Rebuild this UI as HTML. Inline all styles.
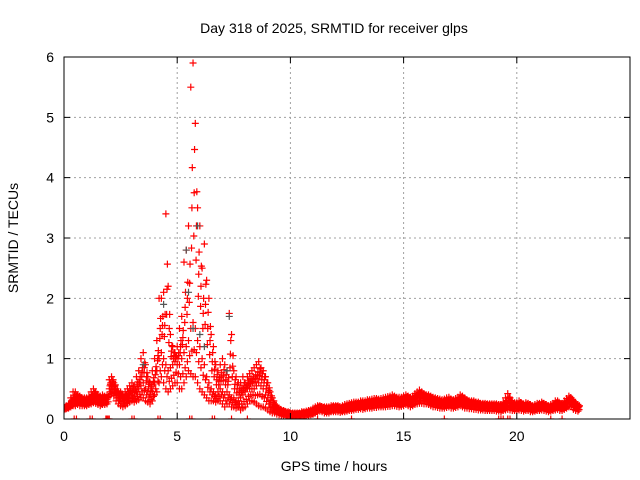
<!DOCTYPE html>
<html><head><meta charset="utf-8"><style>
body{margin:0;background:#fff}
svg{display:block;font-family:"Liberation Sans",sans-serif}
</style></head><body>
<svg id="chart" width="640" height="480">
<defs><clipPath id="clip"><rect x="64" y="57" width="566" height="362"/></clipPath></defs>
<rect width="640" height="480" fill="#fff"/>
<g id="grid"></g>
<g id="marks" clip-path="url(#clip)"></g>
<rect x="64" y="57" width="566" height="362" fill="none" stroke="#000" stroke-width="1"/>
<g id="ticks"></g>
<text x="334" y="33" text-anchor="middle" font-size="14">Day 318 of 2025, SRMTID for receiver glps</text>
<text x="334" y="471" text-anchor="middle" font-size="14">GPS time / hours</text>
<text transform="translate(18,238) rotate(-90)" text-anchor="middle" font-size="14">SRMTID / TECUs</text>
</svg>
<script>
const xTicks=[0,5,10,15,20];
const yTicks=[0,1,2,3,4,5,6];
const step=0.1;
const midVals=[.18,.2,.22,.25,.28,.3,.32,.3,.28,.27,.28,.3,.32,.35,.33,.3,.28,.3,.3,.32,
.5,.55,.5,.4,.35,.35,.3,.32,.35,.4,.4,.38,.45,.5,.55,.6,.5,.45,.4,.45,
.6,.8,1.0,1.1,1.0,.9,.8,.85,.9,.95,.9,.9,1.0,1.1,1.2,1.3,1.5,1.6,1.5,1.3,
1.2,1.0,.9,.7,.6,.5,.45,.4,.45,.5,.45,.4,.45,.4,.35,.35,.3,.3,.35,.4,
.45,.5,.5,.5,.5,.55,.6,.55,.5,.4,.35,.25,.2,.18,.15,.12,.1,.1,.08,.08,
.07,.06,.06,.07,.07,.08,.08,.09,.1,.1,.12,.15,.17,.18,.17,.15,.15,.16,.17,.17,
.18,.17,.16,.17,.18,.19,.2,.2,.21,.22,.22,.23,.22,.24,.25,.24,.25,.26,.27,.26,
.26,.27,.28,.28,.29,.3,.29,.28,.27,.28,.3,.32,.3,.28,.3,.33,.35,.36,.35,.34,
.33,.32,.3,.28,.27,.26,.25,.24,.25,.26,.27,.25,.24,.26,.28,.3,.28,.26,.25,.24,
.24,.23,.22,.22,.2,.21,.2,.2,.2,.2,.2,.19,.18,.18,.2,.22,.25,.22,.2,.2,
.2,.22,.2,.19,.2,.2,.18,.17,.18,.2,.2,.22,.2,.18,.17,.18,.2,.22,.23,.2,
.2,.22,.25,.3,.28,.22,.2,.18];
const hiVals=[.2,.22,.25,.35,.45,.45,.4,.38,.35,.35,.35,.38,.45,.5,.45,.4,.38,.4,.38,.4,
.65,.7,.6,.5,.45,.45,.4,.45,.5,.55,.6,.55,.7,.8,1.0,1.1,.9,.7,.6,.8,
1.0,1.3,2.0,2.0,2.1,3.4,2.2,1.4,1.2,1.1,1.2,1.5,1.7,2.6,2.8,3.2,5.5,5.9,4.9,3.5,
3.2,2.5,2.9,2.3,2.0,1.4,1.2,.9,.8,.9,1.0,.9,.8,1.75,1.4,.8,.7,.6,.6,.7,
.6,.7,.75,.8,.85,.9,.95,.85,.8,.7,.6,.45,.35,.25,.2,.18,.15,.14,.12,.12,
.1,.1,.1,.1,.1,.12,.12,.13,.14,.15,.18,.2,.22,.22,.2,.2,.2,.2,.22,.22,
.22,.22,.2,.22,.24,.25,.26,.27,.28,.28,.28,.3,.3,.3,.32,.32,.33,.34,.34,.33,
.34,.35,.36,.37,.38,.4,.38,.36,.36,.36,.38,.4,.38,.36,.38,.42,.45,.48,.45,.42,
.4,.4,.38,.36,.35,.34,.33,.32,.33,.35,.36,.33,.32,.34,.36,.4,.38,.35,.32,.3,
.3,.3,.28,.28,.26,.26,.26,.25,.25,.25,.25,.25,.24,.24,.28,.35,.42,.35,.28,.27,
.27,.3,.27,.25,.27,.26,.24,.22,.24,.26,.26,.28,.26,.24,.22,.24,.26,.3,.3,.26,
.26,.3,.34,.38,.35,.3,.26,.24];
const loVals=[.15,.17,.18,.2,.22,.22,.24,.22,.22,.22,.22,.24,.25,.27,.26,.24,.22,.24,.24,.25,
.4,.42,.38,.3,.25,.22,.2,.22,.25,.28,.3,.28,.3,.32,.35,.35,.3,.28,.25,.3,
.4,.45,.6,.7,.6,.5,.45,.5,.55,.6,.6,.5,.5,.6,.7,.8,.75,.7,.7,.6,
.5,.45,.4,.35,.3,.3,.3,.28,.3,.3,.25,.2,.25,.25,.2,.2,.18,.2,.15,.18,
.2,.25,.3,.3,.28,.25,.22,.2,.2,.18,.15,.12,.1,.1,.08,.07,.06,.05,.05,.05,
.04,.04,.04,.04,.04,.05,.05,.06,.06,.07,.08,.1,.12,.13,.12,.1,.1,.1,.12,.12,
.12,.12,.11,.12,.12,.13,.14,.14,.15,.16,.16,.17,.16,.17,.18,.18,.18,.19,.19,.2,
.2,.2,.2,.21,.21,.22,.22,.21,.2,.21,.22,.24,.22,.2,.22,.24,.25,.26,.26,.25,
.25,.24,.22,.2,.2,.19,.18,.18,.18,.19,.2,.18,.18,.19,.2,.22,.2,.18,.18,.17,
.17,.16,.16,.15,.15,.15,.14,.14,.14,.14,.14,.13,.13,.12,.14,.15,.16,.15,.14,.14,
.14,.15,.14,.13,.14,.14,.12,.12,.13,.14,.14,.15,.14,.13,.12,.13,.14,.15,.16,.14,
.14,.16,.18,.2,.2,.16,.14,.13];
const zeroTimes=[0.45,0.55,1.15,1.25,1.85,1.9,1.95,2.0,3.0,3.1,4.15,4.25,5.55,5.65,6.55,6.65,7.4,8.1,11.2,12.7,16.8,19.2,19.3,19.4,19.6,19.7,21.5,22.0];
const grayX=[5.4,5.7,5.9,6.0,4.4,7.3,7.2,3.5,5.5,6.2];
const grayY=[2.8,1.5,3.2,1.4,1.9,1.7,0.8,0.9,2.1,1.2];

const X0=64,X1=630,Y0=419,Y1=57,XMAX=25,YMAX=6;
const sx=v=>X0+(X1-X0)*v/XMAX;
const sy=v=>Y0-(Y0-Y1)*v/YMAX;
const NS='http://www.w3.org/2000/svg';
const grid=document.getElementById('grid'),ticks=document.getElementById('ticks'),marks=document.getElementById('marks');
function mk(tag,attrs,parent){const e=document.createElementNS(NS,tag);for(const k in attrs)e.setAttribute(k,attrs[k]);parent.appendChild(e);return e;}
xTicks.forEach(t=>{
  const x=sx(t);
  if(t>0){const g=mk('line',{x1:x,x2:x,y1:Y1,y2:Y0,stroke:'#a0a0a0','stroke-dasharray':'2,3'},grid);
  
  }
  const tk=mk('path',{d:`M${x} ${Y0}v-6M${x} ${Y1}v6`,stroke:'#000'},ticks);
  
  
  const l=mk('text',{x:x,y:Y0+22,'text-anchor':'middle','font-size':14},ticks);
  l.textContent=t;
  
  
});
yTicks.forEach(t=>{
  const y=sy(t);
  if(t>0&&t<6){const g=mk('line',{x1:X0,x2:X1,y1:y,y2:y,stroke:'#a0a0a0','stroke-dasharray':'2,3'},grid);
  
  }
  const tk=mk('path',{d:`M${X0} ${y}h6M${X1} ${y}h-6`,stroke:'#000'},ticks);
  
  
  const l=mk('text',{x:X0-10,y:y+5,'text-anchor':'end','font-size':14},ticks);
  l.textContent=t;
  
  
});
function plus(t,v,color){
  const x=sx(t),y=sy(v);
  const p=mk('path',{d:`M${x-3.5} ${y}h7M${x} ${y-3.5}v7`,stroke:color,'stroke-width':1.2},marks);
  
  
}
midVals.forEach((m,i)=>{
  const t=i*step,h=hiVals[i],l=loVals[i];
  plus(t,l,'#f00');plus(t,m,'#f00');plus(t,h,'#f00');
  plus(t+step/2,(l+m)/2,'#f00');plus(t+step/2,(m+h)/2,'#f00');
  plus(t+step/3,(2*m+h)/3,'#f00');
  plus(t+2*step/3,(m+2*h)/3,'#f00');
});
grayX.forEach((t,i)=>plus(t,grayY[i],'#555'));
zeroTimes.forEach(t=>plus(t,0,'#f00'));
</script>
</body></html>
